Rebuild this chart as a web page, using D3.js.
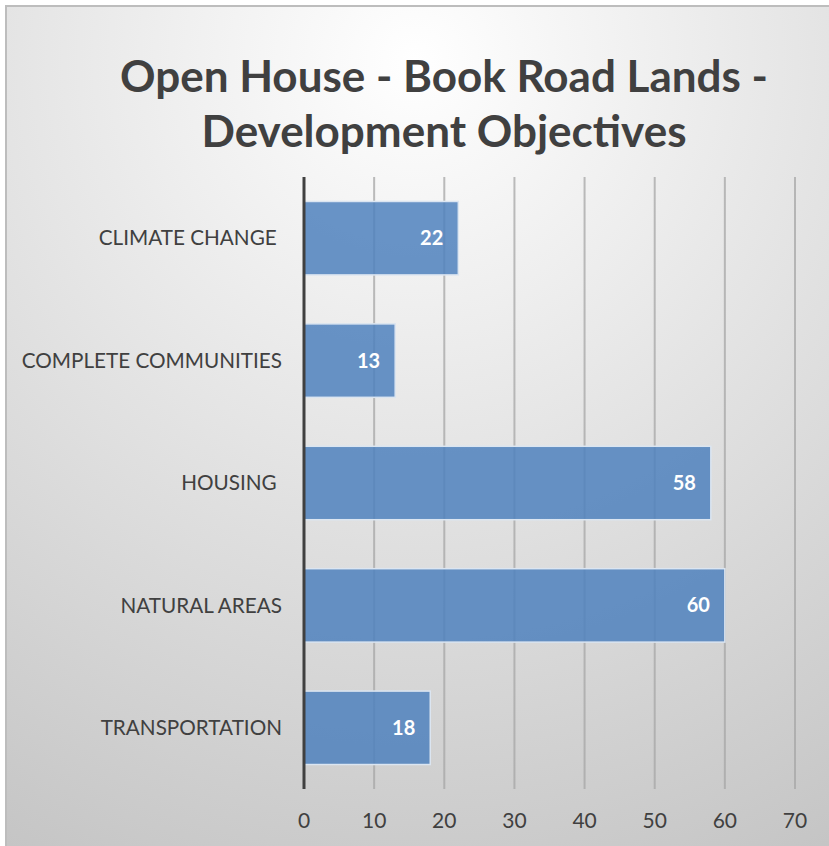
<!DOCTYPE html>
<html>
<head>
<meta charset="utf-8">
<script src="https://cdn.jsdelivr.net/npm/d3@7"></script>
<style>
  html, body { margin: 0; padding: 0; background: #fff; }
  svg { display: block; }
</style>
</head>
<body>
<div id="chart"></div>
<script>
// Open House - Book Road Lands - Development Objectives (horizontal bars)

const categories = ["CLIMATE CHANGE ", "COMPLETE COMMUNITIES", "HOUSING ", "NATURAL AREAS", "TRANSPORTATION"];
const values = [22, 13, 58, 60, 18];
const xTicks = [0, 10, 20, 30, 40, 50, 60, 70];
const titleLines = ["Open House - Book Road Lands -", "Development Objectives"];

const WIDTH = 829, HEIGHT = 846;
const margin = { top: 177, right: 34, bottom: 57, left: 304 };
const FONT = "Lato, 'Open Sans', sans-serif";

const svg = d3.select("#chart").append("svg")
  .attr("width", WIDTH)
  .attr("height", HEIGHT);

// background: soft radial gradient, light at top centre, grey lower down
const defs = svg.append("defs");
const bg = defs.append("radialGradient")
  .attr("id", "bg")
  .attr("gradientUnits", "userSpaceOnUse")
  .attr("cx", 415).attr("cy", 60).attr("r", 900);
bg.append("stop").attr("offset", "0%").attr("stop-color", "#ffffff");
bg.append("stop").attr("offset", "100%").attr("stop-color", "#c4c4c4");

svg.append("rect")
  .attr("x", 6).attr("y", 6)
  .attr("width", WIDTH).attr("height", HEIGHT)
  .attr("fill", "url(#bg)")
  .attr("stroke", "#bdbdbd")
  .attr("stroke-width", 2);

const x = d3.scaleLinear()
  .domain([0, 70])
  .range([margin.left, WIDTH - margin.right]);

const y = d3.scaleBand()
  .domain(categories)
  .range([margin.top, HEIGHT - margin.bottom])
  .paddingInner(0.4)
  .paddingOuter(0.2);

// title
svg.append("g")
  .selectAll("text")
  .data(titleLines)
  .join("text")
    .attr("x", 444)
    .attr("y", (d, i) => 92 + i * 55)
    .attr("text-anchor", "middle")
    .attr("font-family", FONT)
    .attr("font-weight", "bold")
    .attr("font-size", 44)
    .attr("fill", "#404040")
    .text(d => d);

// vertical gridlines
svg.append("g")
  .selectAll("line")
  .data(xTicks.slice(1))
  .join("line")
    .attr("x1", d => x(d)).attr("x2", d => x(d))
    .attr("y1", margin.top).attr("y2", HEIGHT - margin.bottom)
    .attr("stroke", "#a6a6a6")
    .attr("stroke-opacity", 0.75)
    .attr("stroke-width", 2);

// bars
svg.append("g")
  .selectAll("rect")
  .data(values)
  .join("rect")
    .attr("x", x(0))
    .attr("y", (d, i) => y(categories[i]))
    .attr("width", d => x(d) - x(0))
    .attr("height", y.bandwidth())
    .attr("fill", "#4f81bd")
    .attr("fill-opacity", 0.85)
    .attr("stroke", "#dbe5f1")
    .attr("stroke-width", 1.5);

// value labels inside bar ends
svg.append("g")
  .selectAll("text")
  .data(values)
  .join("text")
    .attr("x", d => x(d) - 15)
    .attr("y", (d, i) => y(categories[i]) + y.bandwidth() / 2)
    .attr("dy", "0.35em")
    .attr("text-anchor", "end")
    .attr("font-family", FONT)
    .attr("font-weight", "bold")
    .attr("font-size", 20)
    .attr("fill", "#ffffff")
    .text(d => d);

// y axis line
svg.append("line")
  .attr("x1", x(0)).attr("x2", x(0))
  .attr("y1", margin.top).attr("y2", HEIGHT - margin.bottom)
  .attr("stroke", "#404040")
  .attr("stroke-width", 3);

// category labels
svg.append("g")
  .selectAll("text")
  .data(categories)
  .join("text")
    .attr("x", 282)
    .attr("y", d => y(d) + y.bandwidth() / 2)
    .attr("dy", "0.35em")
    .attr("text-anchor", "end")
    .attr("xml:space", "preserve")
    .style("white-space", "pre")
    .attr("font-family", FONT)
    .attr("font-size", 20.7)
    .attr("fill", "#404040")
    .text(d => d);

// x tick labels
svg.append("g")
  .selectAll("text")
  .data(xTicks)
  .join("text")
    .attr("x", d => x(d))
    .attr("y", 828)
    .attr("text-anchor", "middle")
    .attr("font-family", FONT)
    .attr("font-size", 21)
    .attr("fill", "#404040")
    .text(d => d);
</script>
</body>
</html>
